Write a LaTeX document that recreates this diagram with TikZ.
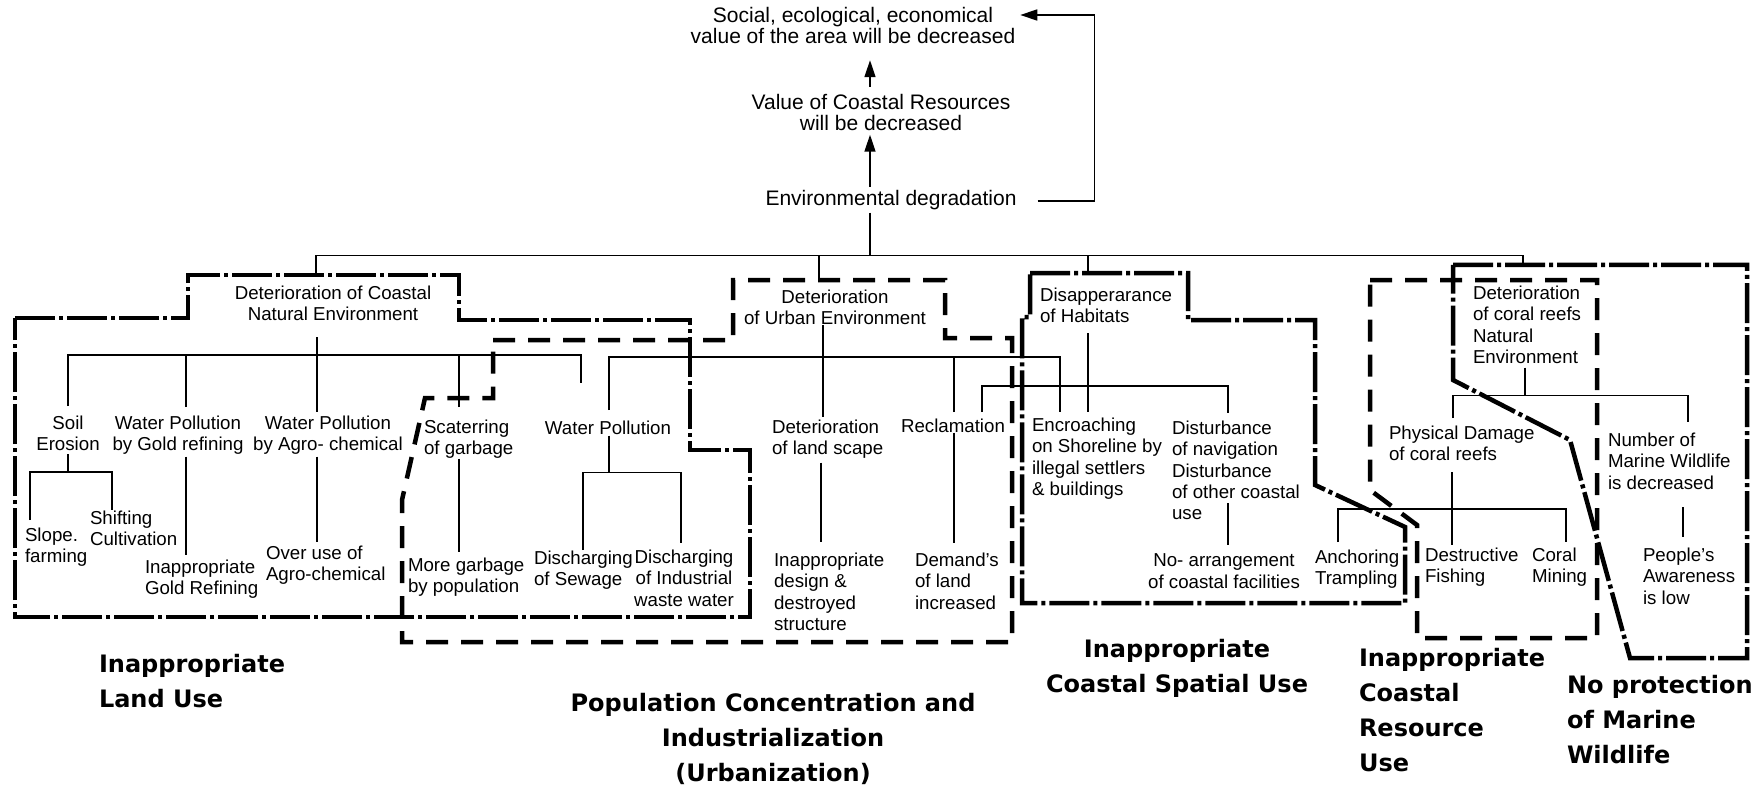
\documentclass[tikz,border=0pt]{standalone}
\usepackage{fontspec}
\setmainfont{Liberation Sans}
\newfontfamily\labelfont{DejaVu Sans}
\usetikzlibrary{arrows.meta}
\begin{document}
\begin{tikzpicture}[x=1pt,y=-1pt,
  txt/.style={inner sep=0pt,outer sep=0pt,font=\fontsize{18.7}{21.3}\selectfont,align=left},
  ctxt/.style={txt,align=center},
  toptxt/.style={inner sep=0pt,outer sep=0pt,font=\fontsize{21}{20.8}\selectfont,align=center},
  biglbl/.style={inner sep=0pt,outer sep=0pt,font=\labelfont\bfseries\fontsize{24}{35}\selectfont,align=left},
  conn/.style={line width=1.3pt},
  arr/.style={line width=1.6pt,-{Triangle[length=17pt,width=11pt]}},
  dashdotbox/.style={line width=4.5pt,dash pattern=on 40pt off 4pt on 4pt off 4pt},
  dashbox/.style={line width=4.5pt,dash pattern=on 22pt off 13pt}
]
\useasboundingbox (0,0) rectangle (1763,786);
\fill[white] (0,0) rectangle (1763,786);

% ---------- top nodes ----------
\node[toptxt,anchor=north] (soc) at (853,7) {Social, ecological, economical\\value of the area will be decreased};
\node[toptxt,anchor=north] (val) at (881,94) {Value of Coastal Resources\\will be decreased};
\node[toptxt,anchor=north] (env) at (891,190) {Environmental degradation};

% ---------- second level ----------
\node[ctxt,anchor=north] (coastal) at (333,286) {Deterioration of Coastal\\Natural Environment};
\node[ctxt,anchor=north] (urban) at (835,290) {Deterioration\\of Urban Environment};
\node[txt,anchor=north west] (habit) at (1040,288) {Disapperarance\\of Habitats};
\node[txt,anchor=north west] (coral) at (1473,286) {Deterioration\\of coral reefs\\Natural\\Environment};

% ---------- third level ----------
\node[ctxt,anchor=north] (soil) at (68,416) {Soil\\Erosion};
\node[ctxt,anchor=north] (gold) at (178,416) {Water Pollution\\by Gold refining};
\node[ctxt,anchor=north] (agro) at (328,416) {Water Pollution\\by Agro- chemical};
\node[txt,anchor=north west] (scat) at (424,420) {Scaterring\\of garbage};
\node[ctxt,anchor=north] (wp) at (608,421) {Water Pollution};
\node[txt,anchor=north west] (scape) at (772,420) {Deterioration\\of land scape};
\node[txt,anchor=north west] (recl) at (901,419) {Reclamation};
\node[txt,anchor=north west] (encr) at (1032,418) {Encroaching\\on Shoreline by\\illegal settlers\\\& buildings};
\node[txt,anchor=north west] (dist) at (1172,421) {Disturbance\\of navigation\\Disturbance\\of other coastal\\use};
\node[txt,anchor=north west] (phys) at (1389,426) {Physical Damage\\of coral reefs};
\node[txt,anchor=north west] (num) at (1608,433) {Number of\\Marine Wildlife\\is decreased};

% ---------- fourth level ----------
\node[txt,anchor=north west] (slope) at (25,528) {Slope.\\farming};
\node[txt,anchor=north west] (shift) at (90,511) {Shifting\\Cultivation};
\node[txt,anchor=north west] (inapgold) at (145,560) {Inappropriate\\Gold Refining};
\node[txt,anchor=north west] (overuse) at (266,546) {Over use of\\Agro-chemical};
\node[txt,anchor=north west] (more) at (408,558) {More garbage\\by population};
\node[txt,anchor=north west] (sewage) at (534,551) {Discharging\\of Sewage};
\node[ctxt,anchor=north] (indus) at (684,550) {Discharging\\of Industrial\\waste water};
\node[txt,anchor=north west] (design) at (774,553) {Inappropriate\\design \&\\destroyed\\structure};
\node[txt,anchor=north west] (demand) at (915,553) {Demand's\\of land\\increased};
\node[ctxt,anchor=north] (noarr) at (1224,554) {No- arrangement\\of coastal facilities};
\node[txt,anchor=north west] (anch) at (1315,550) {Anchoring\\Trampling};
\node[txt,anchor=north west] (destr) at (1425,548) {Destructive\\Fishing};
\node[txt,anchor=north west] (mining) at (1532,548) {Coral\\Mining};
\node[txt,anchor=north west] (people) at (1643,548) {People's\\Awareness\\is low};

% ---------- bold group labels ----------
\node[biglbl,anchor=north west] (landuse) at (99,654) {Inappropriate\\Land Use};
\node[biglbl,align=center,anchor=north] (popu) at (773,693) {Population Concentration and\\Industrialization\\(Urbanization)};
\node[biglbl,align=center,anchor=north] (spatial) at (1177,639) {Inappropriate\\Coastal Spatial Use};
\node[biglbl,anchor=north west] (resource) at (1359,648) {Inappropriate\\Coastal\\Resource\\Use};
\node[biglbl,anchor=north west] (noprot) at (1567,675) {No protection\\of Marine\\Wildlife};

% ---------- group frames ----------
\draw[dashdotbox] (15,318) -- (188,318) -- (188,275) -- (459,275) -- (459,320) -- (690,320) -- (690,450) -- (750,450) -- (750,617) -- (15,617) -- cycle;
\draw[dashbox] (493,340) -- (733,340) -- (733,280) -- (945,280) -- (945,338) -- (1012,338) -- (1012,642) -- (402,642) -- (402,500) -- (425,398) -- (493,398) -- cycle;
\draw[dashdotbox] (1030,273) -- (1188,273) -- (1188,320) -- (1315,320) -- (1315,485) -- (1405,527) -- (1405,603) -- (1022,603) -- (1022,317) -- (1030,317) -- cycle;
\draw[dashbox] (1370,280) -- (1597,280) -- (1597,638) -- (1417,638) -- (1417,525) -- (1370,490) -- cycle;
\draw[dashdotbox] (1453,265) -- (1747,265) -- (1747,658) -- (1630,658) -- (1570,440) -- (1453,380) -- cycle;

% ---------- arrows at the top ----------
\draw[arr] ([shift={(-21,-3)}]env.north) -- ([shift={(-11,4.5)}]val.south);
\draw[arr] ([shift={(-11,-7)}]val.north) -- ([shift={(17,17)}]soc.south);
\draw[arr] ([shift={(21,1)}]env.east) -- ++(57,0) |- ([shift={(5,8)}]soc.north east);

% ---------- main distribution bar ----------
\draw[conn] ([shift={(-21,3)}]env.south) -- ++(0,43) coordinate (mainJ);
\draw[conn] (mainJ) -- ++(-554,0) -- ++(0,19);
\draw[conn] (mainJ) -- ++(653,0) -- ++(0,9);
\draw[conn] ([shift={(-16,-10)}]urban.north) -- ++(0,-24);
\draw[conn] ([shift={(48,-15)}]habit.north west) -- ++(0,-17);

% ---------- coastal natural environment tree ----------
\draw[conn] ([shift={(-16,16)}]coastal.south) -- ([shift={(-11,-4)}]agro.north);
\draw[conn] ([shift={(0,-10)}]soil.north) -- ++(0,-51) coordinate (cbar) -- ++(513,0) -- ++(0,28);
\draw[conn] ([shift={(8,-9)}]gold.north) -- ++(0,-52);
\draw[conn] ([shift={(35,-13)}]scat.north west) -- ++(0,-52);
\draw[conn] ([shift={(5,-8)}]slope.north west) -- ++(0,-48) coordinate (sbar) -| ([shift={(22,-1)}]shift.north west);
\draw[conn] ([shift={(0,3)}]soil.south) -- (soil.south |- sbar);
\draw[conn] ([shift={(8,2)}]gold.south) -- ([shift={(41,-5)}]inapgold.north west);
\draw[conn] ([shift={(-11,2)}]agro.south) -- ([shift={(51,-4)}]overuse.north west);
\draw[conn] ([shift={(35,0)}]scat.south west) -- ([shift={(51,-6)}]more.north west);

% ---------- urban environment tree ----------
\draw[conn] ([shift={(1,-11)}]wp.north) -- ++(0,-53) coordinate (ubar) -- ++(451,0) -- ([shift={(28,-6)}]encr.north west);
\draw[conn] ([shift={(53,-7)}]recl.north west) -- ++(0,-55);
\draw[conn] ([shift={(-12,0)}]urban.south) -- ([shift={(51,-3)}]scape.north west);
\draw[conn] ([shift={(1,1)}]wp.south) -- ++(0,37) coordinate (wbar);
\draw[conn] ([shift={(49,-1)}]sewage.north west) |- (wbar) -| ([shift={(-3,-7)}]indus.north);
\draw[conn] ([shift={(49,4)}]scape.south west) -- ([shift={(47,-11)}]design.north west);
\draw[conn] ([shift={(53,0)}]recl.south west) -- ([shift={(39,-10)}]demand.north west);

% ---------- habitats tree ----------
\draw[conn] ([shift={(48,10)}]habit.south west) -- ([shift={(56,-6)}]encr.north west);
\draw[conn] ([shift={(81,-7)}]recl.north west) -- ++(0,-26) -| ([shift={(56,-8)}]dist.north west);
\draw[conn] ([shift={(56,82)}]dist.north west) -- ([shift={(4,-9)}]noarr.north);

% ---------- coral reef tree ----------
\draw[conn] ([shift={(52,4)}]coral.south west) -- ++(0,28) coordinate (crbar);
\draw[conn] ([shift={(64,-8)}]phys.north west) |- (crbar) -| ([shift={(80,-11)}]num.north west);
\draw[conn] ([shift={(63,11)}]phys.south west) -- ([shift={(27,-3)}]destr.north west);
\draw[conn] ([shift={(23,-8)}]anch.north west) -- ++(0,-33) -| ([shift={(34,-6)}]mining.north west);
\draw[conn] ([shift={(75,18)}]num.south west) -- ([shift={(40,-11)}]people.north west);
\end{tikzpicture}
\end{document}
